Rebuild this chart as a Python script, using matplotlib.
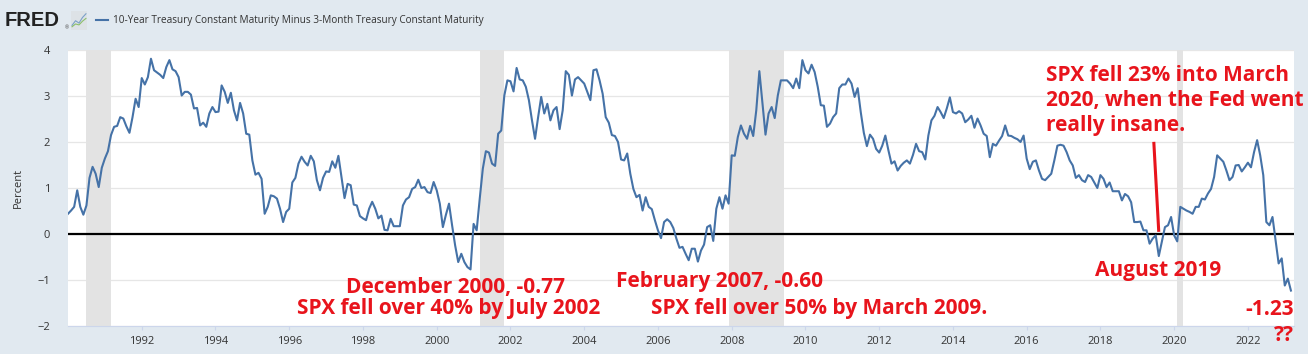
import matplotlib.pyplot as plt
from matplotlib.lines import Line2D
import numpy as np

plt.rcParams['font.family'] = ['Open Sans', 'DejaVu Sans']

# monthly 10Y - 3M spread, Jan 1990 .. Mar 2023
spread_1990s = [
    0.44, 0.51, 0.59, 0.95, 0.59, 0.42, 0.62, 1.22, 1.46, 1.31, 1.02, 1.44,
    1.64, 1.80, 2.15, 2.33, 2.35, 2.54, 2.51, 2.34, 2.20, 2.54, 2.94, 2.76,
    3.39, 3.25, 3.41, 3.81, 3.56, 3.51, 3.46, 3.39, 3.63, 3.78, 3.58, 3.54,
    3.41, 3.01, 3.09, 3.09, 3.03, 2.73, 2.74, 2.36, 2.42, 2.33, 2.62, 2.76,
    2.65, 2.66, 3.23, 3.09, 2.85, 3.07, 2.69, 2.47, 2.85, 2.62, 2.18, 2.16,
    1.60, 1.29, 1.33, 1.20, 0.44, 0.59, 0.84, 0.82, 0.77, 0.55, 0.26, 0.48,
    0.55, 1.12, 1.22, 1.53, 1.68, 1.57, 1.49, 1.70, 1.58, 1.17, 0.95, 1.22,
    1.36, 1.35, 1.58, 1.44, 1.70, 1.24, 0.78, 1.09, 1.06, 0.64, 0.62, 0.39,
    0.34, 0.30, 0.55, 0.70, 0.55, 0.34, 0.40, 0.09, 0.08, 0.33, 0.17, 0.17,
    0.17, 0.62, 0.75, 0.80, 0.98, 1.02, 1.18, 1.00, 1.02, 0.91, 0.89, 1.13,
]
spread_2000s = [
    0.95, 0.66, 0.15, 0.42, 0.66, 0.19, -0.25, -0.61, -0.43, -0.61, -0.72, -0.77,
    0.22, 0.08, 0.77, 1.42, 1.80, 1.77, 1.53, 1.48, 2.18, 2.25, 3.01, 3.34,
    3.32, 3.10, 3.61, 3.36, 3.34, 3.20, 2.91, 2.47, 2.07, 2.54, 2.98, 2.62,
    2.83, 2.47, 2.69, 2.76, 2.28, 2.69, 3.54, 3.46, 3.01, 3.36, 3.41, 3.34,
    3.27, 3.09, 2.91, 3.56, 3.58, 3.34, 3.05, 2.54, 2.42, 2.15, 2.13, 2.00,
    1.62, 1.60, 1.75, 1.31, 0.98, 0.80, 0.85, 0.51, 0.80, 0.59, 0.54, 0.30,
    0.08, -0.09, 0.26, 0.32, 0.26, 0.13, -0.10, -0.30, -0.28, -0.43, -0.57, -0.32,
    -0.32, -0.60, -0.36, -0.23, 0.15, 0.19, -0.15, 0.55, 0.80, 0.55, 0.84, 0.66,
    1.71, 1.70, 2.11, 2.36, 2.18, 2.07, 2.35, 2.13, 2.69, 3.54, 2.85, 2.16,
    2.62, 2.76, 2.52, 3.01, 3.34, 3.34, 3.34, 3.27, 3.17, 3.38, 3.17, 3.78,
]
spread_2010s = [
    3.56, 3.49, 3.68, 3.52, 3.20, 2.80, 2.79, 2.33, 2.40, 2.54, 2.62, 3.17,
    3.25, 3.25, 3.38, 3.27, 2.98, 3.17, 2.65, 2.20, 1.91, 2.16, 2.07, 1.85,
    1.77, 1.92, 2.14, 1.82, 1.53, 1.58, 1.38, 1.48, 1.55, 1.60, 1.53, 1.72,
    1.96, 1.80, 1.78, 1.62, 2.14, 2.47, 2.57, 2.76, 2.65, 2.52, 2.73, 2.97,
    2.65, 2.62, 2.67, 2.62, 2.43, 2.49, 2.57, 2.31, 2.51, 2.36, 2.18, 2.13,
    1.67, 1.96, 1.92, 2.03, 2.13, 2.36, 2.14, 2.13, 2.09, 2.06, 2.00, 2.14,
    1.64, 1.41, 1.57, 1.60, 1.38, 1.20, 1.17, 1.24, 1.31, 1.60, 1.92, 1.94,
    1.92, 1.78, 1.60, 1.49, 1.22, 1.28, 1.17, 1.13, 1.28, 1.24, 1.12, 1.00,
    1.28, 1.20, 1.02, 1.12, 0.93, 0.93, 0.93, 0.73, 0.87, 0.82, 0.69, 0.26,
    0.26, 0.27, 0.08, 0.08, -0.21, -0.10, -0.03, -0.48, -0.17, 0.15, 0.19, 0.37,
]
spread_2020s = [
    -0.03, -0.16, 0.59, 0.55, 0.51, 0.48, 0.44, 0.59, 0.59, 0.77, 0.75, 0.88,
    0.98, 1.24, 1.71, 1.64, 1.57, 1.38, 1.17, 1.24, 1.49, 1.50, 1.36, 1.45,
    1.55, 1.45, 1.78, 2.04, 1.71, 1.28, 0.26, 0.19, 0.37, -0.14, -0.64, -0.53,
    -1.12, -0.97, -1.23,
]
spread = spread_1990s + spread_2000s + spread_2010s + spread_2020s
years = 1990 + np.arange(len(spread)) / 12.0

recessions = [(1990.5, 1991.167), (2001.167, 2001.833),
              (2007.917, 2009.417), (2020.083, 2020.25)]
xticks = list(range(1992, 2023, 2))
yticks = [-2, -1, 0, 1, 2, 3, 4]

W, H = 1308, 354
fig = plt.figure(figsize=(W / 100, H / 100), dpi=100)
fig.patch.set_facecolor('#e1e9f0')
ax = fig.add_axes([68 / W, 1 - 326 / H, (1294 - 68) / W, (326 - 50) / H])
ax.set_facecolor('white')

for a, b in recessions:
    ax.axvspan(a, b, color='#e3e3e3', lw=0, zorder=1)
ax.grid(axis='y', color='#e6e6e6', lw=0.9, zorder=0)
ax.set_axisbelow(True)
ax.axhline(0, color='black', lw=1.6, zorder=3)
ax.plot(years, spread, color='#4572a7', lw=1.5, zorder=4)

ax.set_xlim(1990, 2023.25)
ax.set_ylim(-2, 4)
ax.set_xticks(xticks)
ax.set_xticklabels([str(y) for y in xticks])
ax.set_yticks(yticks)
ax.tick_params(axis='x', length=3, color='#ccd6eb', labelsize=8, labelcolor='#333333', pad=4)
ax.tick_params(axis='y', length=0, labelsize=8, labelcolor='#333333', pad=13)
for s in ['top', 'right', 'left']:
    ax.spines[s].set_visible(False)
ax.spines['bottom'].set_color('#ccd6eb')
ax.set_ylabel('Percent', fontsize=8, color='#333333')
ax.yaxis.set_label_coords(-0.036, 0.5)

# header
fig.text(5 / W, 1 - 20.5 / H, 'FRED', fontsize=14.5, fontweight='heavy',
         family='Liberation Sans', color='#222222', va='center')
fig.text(65 / W, 1 - 28 / H, '®', fontsize=3.5, color='#444444', va='center')
icon = fig.add_axes([71 / W, 1 - 30 / H, 16 / W, 19 / H])
icon.set_facecolor('#dde2e6')
icon.plot([0, 1, 2, 3, 4], [0.5, 1.5, 1.0, 2.2, 3.0], color='#7aa0c8', lw=0.8)
icon.plot([0, 1, 2, 3, 4], [0.2, 0.8, 0.6, 1.4, 2.0], color='#8cbf6a', lw=0.8)
icon.set_xlim(-0.3, 4.3)
icon.set_ylim(-0.5, 3.6)
icon.set_xticks([])
icon.set_yticks([])
for s in icon.spines.values():
    s.set_visible(False)
fig.add_artist(Line2D([96 / W, 108 / W], [1 - 20 / H, 1 - 20 / H], color='#4572a7', lw=1.5))
fig.text(113 / W, 1 - 20 / H,
         '10-Year Treasury Constant Maturity Minus 3-Month Treasury Constant Maturity',
         fontsize=7.2, color='#333333', va='center')

# annotations
red = '#e8141c'
kw = dict(color=red, fontsize=15, fontweight='bold', va='center', zorder=6)
ax.text(2000.52, -1.16, 'December 2000, -0.77', ha='center', **kw)
ax.text(2000.33, -1.62, 'SPX fell over 40% by July 2002', ha='center', **kw)
ax.text(2007.68, -1.03, 'February 2007, -0.60', ha='center', **kw)
ax.text(2010.37, -1.62, 'SPX fell over 50% by March 2009.', ha='center', **kw)
ax.text(2016.53, 3.45, 'SPX fell 23% into March', ha='left', **kw)
ax.text(2016.53, 2.90, '2020, when the Fed went', ha='left', clip_on=False, **kw)
ax.text(2016.53, 2.36, 'really insane.', ha='left', **kw)
ax.text(2019.56, -0.79, 'August 2019', ha='center', **kw)
ax.text(2022.60, -1.64, '-1.23', ha='center', **kw)
ax.text(2022.98, -2.20, '??', ha='center', clip_on=False, **kw)
ax.plot([2019.45, 2019.58], [1.97, 0.08], color=red, lw=2.2, zorder=6)

fig.savefig('out.png', dpi=100, facecolor=fig.get_facecolor())
